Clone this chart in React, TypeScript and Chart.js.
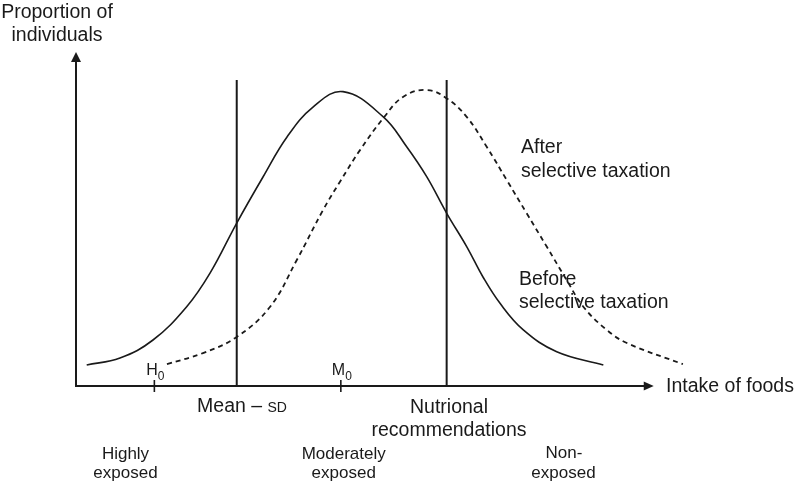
import React, { useEffect, useRef } from "react";
import { Chart, registerables } from "chart.js";

Chart.register(...registerables);

// Curve before selective taxation (solid)
const beforeX = [1.87, 7.69, 13.46, 19.35, 23.43, 28.1, 32.69, 36.89, 41.43, 46.68, 53.72, 57.81, 61.31, 64.81, 68.3, 71.2, 74.13, 78.2, 84.04, 92.19];
const beforeY = [6.25, 8.33, 13.69, 23.6, 33.6, 48.5, 62.2, 74.1, 83.0, 87.6, 80.1, 71.2, 62.3, 51.4, 41.5, 32.3, 24.6, 16.7, 10.2, 6.25];
// Curve after selective taxation (dashed)
const afterX = [15.9, 22.2, 28.1, 33.9, 38.6, 43.2, 46.15, 49.65, 53.72, 57.22, 61.31, 64.81, 68.3, 71.8, 75.3, 78.79, 82.29, 85.79, 88.69, 92.78, 96.3, 106.1];
const afterY = [6.5, 9.8, 14.6, 23.5, 37.5, 52.4, 60.8, 70.2, 79.7, 86.1, 88.1, 85.6, 80.1, 71.2, 61.3, 51.4, 41.5, 31.5, 23.6, 16.7, 12.8, 6.5];
// Vertical threshold lines: Mean – SD, Nutritional recommendations
const thresholdX = [28.1, 64.8];
const thresholdTop = 91.1;
// Axis ticks H0 and M0
const tickX = [13.7, 46.3];
const tickLabels = ["H", "M"];
const tickSub = "0";
const xAxisEnd = 101;
const yAxisEnd = 99.4;

const FONT = '"Liberation Sans", Arial, Helvetica, sans-serif';
const INK = "#1a1a1a";

const overlayPlugin = {
  id: "overlay",
  afterDatasetsDraw(chart: any) {
    const ctx = chart.ctx as CanvasRenderingContext2D;
    const xs = chart.scales.x;
    const ys = chart.scales.y;
    const x0 = xs.getPixelForValue(0);
    const y0 = ys.getPixelForValue(0);
    const xEnd = xs.getPixelForValue(xAxisEnd);
    const yEnd = ys.getPixelForValue(yAxisEnd);
    ctx.save();
    ctx.strokeStyle = INK;
    ctx.fillStyle = INK;
    ctx.lineWidth = 2;
    // axes
    ctx.beginPath();
    ctx.moveTo(x0, yEnd + 9);
    ctx.lineTo(x0, y0);
    ctx.lineTo(xEnd - 9, y0);
    ctx.stroke();
    // arrow heads
    ctx.beginPath();
    ctx.moveTo(x0, yEnd);
    ctx.lineTo(x0 - 5, yEnd + 10);
    ctx.lineTo(x0 + 5, yEnd + 10);
    ctx.closePath();
    ctx.fill();
    ctx.beginPath();
    ctx.moveTo(xEnd, y0);
    ctx.lineTo(xEnd - 10, y0 - 4.5);
    ctx.lineTo(xEnd - 10, y0 + 4.5);
    ctx.closePath();
    ctx.fill();
    // ticks
    ctx.lineWidth = 1.6;
    tickX.forEach((v, i) => {
      const px = xs.getPixelForValue(v);
      ctx.beginPath();
      ctx.moveTo(px, y0 - 6);
      ctx.lineTo(px, y0 + 6);
      ctx.stroke();
      ctx.font = `16px ${FONT}`;
      const wMain = ctx.measureText(tickLabels[i]).width;
      ctx.font = `12px ${FONT}`;
      const wSub = ctx.measureText(tickSub).width;
      const start = px - (wMain + wSub) / 2 + 1;
      ctx.textAlign = "left";
      ctx.textBaseline = "alphabetic";
      ctx.font = `16px ${FONT}`;
      ctx.fillText(tickLabels[i], start, y0 - 11);
      ctx.font = `12px ${FONT}`;
      ctx.fillText(tickSub, start + wMain, y0 - 6);
    });

    const big = `19.5px ${FONT}`;
    const small = `17px ${FONT}`;
    ctx.textBaseline = "alphabetic";
    // y-axis title
    ctx.font = big;
    ctx.textAlign = "center";
    ctx.fillText("Proportion of", 57, 18);
    ctx.fillText("individuals", 57, 41);
    // x-axis title
    ctx.textAlign = "left";
    ctx.textBaseline = "middle";
    ctx.fillText("Intake of foods", 666, y0 + 0.5);
    ctx.textBaseline = "alphabetic";
    // Mean – SD
    const p1 = "Mean – ";
    ctx.font = big;
    const w1 = ctx.measureText(p1).width;
    ctx.font = `14px ${FONT}`;
    const w2 = ctx.measureText("SD").width;
    const mx = 242 - (w1 + w2) / 2;
    ctx.textAlign = "left";
    ctx.font = big;
    ctx.fillText(p1, mx, 412);
    ctx.font = `14px ${FONT}`;
    ctx.fillText("SD", mx + w1, 412);
    // Nutritional recommendations
    ctx.font = big;
    ctx.textAlign = "center";
    ctx.fillText("Nutrional", 449, 413);
    ctx.fillText("recommendations", 449, 436);
    // Curve labels
    ctx.textAlign = "left";
    ctx.fillText("After", 521, 153);
    ctx.fillText("selective taxation", 521, 177);
    ctx.fillText("Before", 519, 285);
    ctx.fillText("selective taxation", 519, 308);
    // exposure groups
    ctx.font = small;
    ctx.textAlign = "center";
    ctx.fillText("Highly", 125.5, 459);
    ctx.fillText("exposed", 125.5, 478);
    ctx.fillText("Moderately", 343.7, 459);
    ctx.fillText("exposed", 343.7, 478);
    ctx.fillText("Non-", 564, 458);
    ctx.fillText("exposed", 563.5, 478);
    ctx.restore();
  },
};

export default function App() {
  const ref = useRef<HTMLCanvasElement | null>(null);
  useEffect(() => {
    if (!ref.current) return;
    const before = beforeX.map((x, i) => ({ x, y: beforeY[i] }));
    const after = afterX.map((x, i) => ({ x, y: afterY[i] }));
    const lineSets = thresholdX.map((x) => ({
      data: [
        { x, y: 0 },
        { x, y: thresholdTop },
      ],
      borderColor: INK,
      borderWidth: 2,
      pointRadius: 0,
      showLine: true,
      tension: 0,
    }));
    const chart = new Chart(ref.current, {
      type: "scatter",
      data: {
        datasets: [
          {
            label: "Before selective taxation",
            data: before,
            borderColor: INK,
            borderWidth: 1.6,
            pointRadius: 0,
            showLine: true,
            tension: 0.4,
          } as any,
          {
            label: "After selective taxation",
            data: after,
            borderColor: INK,
            borderWidth: 1.8,
            borderDash: [5, 4],
            pointRadius: 0,
            showLine: true,
            tension: 0.4,
          } as any,
          ...lineSets,
        ],
      },
      options: {
        animation: false,
        responsive: false,
        layout: { padding: { left: 76, top: 50, right: 91.8, bottom: 99 } },
        scales: {
          x: { type: "linear", min: 0, max: 110, display: false },
          y: { type: "linear", min: 0, max: 100, display: false },
        },
        plugins: {
          legend: { display: false },
          tooltip: { enabled: false },
        },
      },
      plugins: [overlayPlugin],
    });
    return () => chart.destroy();
  }, []);
  return (
    <div style={{ position: "fixed", left: 0, top: 0, width: 797, height: 485, background: "#fff" }}>
      <canvas ref={ref} width={797} height={485} />
    </div>
  );
}
